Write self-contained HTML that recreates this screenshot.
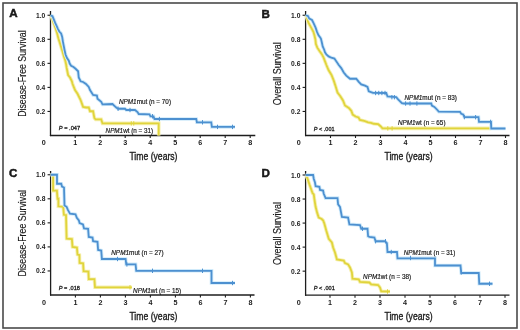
<!DOCTYPE html>
<html><head><meta charset="utf-8"><title>KM curves</title>
<style>
html,body{margin:0;padding:0;background:#fff;width:520px;height:330px;overflow:hidden;}
svg{display:block;will-change:transform;}
text{font-family:"Liberation Sans",sans-serif;fill:#1a1a1a;}
</style></head><body>
<svg width="520" height="330" viewBox="0 0 520 330">
<rect width="520" height="330" fill="#fff"/>
<rect x="3" y="3" width="514" height="325" fill="none" stroke="#4a4a4a" stroke-width="1.6"/>
<text x="9.2" y="17.0" font-size="11.6" text-anchor="start" font-weight="bold" font-style="normal" stroke="#111" stroke-width="0.45">A</text>
<text x="261.6" y="17.5" font-size="11.6" text-anchor="start" font-weight="bold" font-style="normal" stroke="#111" stroke-width="0.45">B</text>
<text x="9.0" y="177.0" font-size="11.6" text-anchor="start" font-weight="bold" font-style="normal" stroke="#111" stroke-width="0.45">C</text>
<text x="261.6" y="177.4" font-size="11.6" text-anchor="start" font-weight="bold" font-style="normal" stroke="#111" stroke-width="0.45">D</text>
<line x1="50.5" y1="11" x2="50.5" y2="136.1" stroke="#1e1e1e" stroke-width="1.3"/><line x1="49.9" y1="135.5" x2="255.3" y2="135.5" stroke="#1e1e1e" stroke-width="1.3"/><line x1="47.5" y1="111.45" x2="50.5" y2="111.45" stroke="#1e1e1e" stroke-width="1.1"/><text x="36.00" y="113.95" font-size="7.2" text-anchor="start" font-weight="bold" font-style="normal" textLength="9.3" lengthAdjust="spacingAndGlyphs">0.2</text><line x1="47.5" y1="87.40" x2="50.5" y2="87.40" stroke="#1e1e1e" stroke-width="1.1"/><text x="36.00" y="89.90" font-size="7.2" text-anchor="start" font-weight="bold" font-style="normal" textLength="9.3" lengthAdjust="spacingAndGlyphs">0.4</text><line x1="47.5" y1="63.35" x2="50.5" y2="63.35" stroke="#1e1e1e" stroke-width="1.1"/><text x="36.00" y="65.85" font-size="7.2" text-anchor="start" font-weight="bold" font-style="normal" textLength="9.3" lengthAdjust="spacingAndGlyphs">0.6</text><line x1="47.5" y1="39.30" x2="50.5" y2="39.30" stroke="#1e1e1e" stroke-width="1.1"/><text x="36.00" y="41.80" font-size="7.2" text-anchor="start" font-weight="bold" font-style="normal" textLength="9.3" lengthAdjust="spacingAndGlyphs">0.8</text><line x1="47.5" y1="15.25" x2="50.5" y2="15.25" stroke="#1e1e1e" stroke-width="1.1"/><text x="36.00" y="17.75" font-size="7.2" text-anchor="start" font-weight="bold" font-style="normal" textLength="9.3" lengthAdjust="spacingAndGlyphs">1.0</text><text x="43.75" y="145.10" font-size="7.2" text-anchor="middle" font-weight="bold" font-style="normal">0</text><line x1="75.20" y1="135.5" x2="75.20" y2="138.0" stroke="#1e1e1e" stroke-width="1.1"/><text x="75.20" y="145.10" font-size="7.2" text-anchor="middle" font-weight="bold" font-style="normal">1</text><line x1="100.20" y1="135.5" x2="100.20" y2="138.0" stroke="#1e1e1e" stroke-width="1.1"/><text x="100.20" y="145.10" font-size="7.2" text-anchor="middle" font-weight="bold" font-style="normal">2</text><line x1="125.20" y1="135.5" x2="125.20" y2="138.0" stroke="#1e1e1e" stroke-width="1.1"/><text x="125.20" y="145.10" font-size="7.2" text-anchor="middle" font-weight="bold" font-style="normal">3</text><line x1="150.20" y1="135.5" x2="150.20" y2="138.0" stroke="#1e1e1e" stroke-width="1.1"/><text x="150.20" y="145.10" font-size="7.2" text-anchor="middle" font-weight="bold" font-style="normal">4</text><line x1="175.20" y1="135.5" x2="175.20" y2="138.0" stroke="#1e1e1e" stroke-width="1.1"/><text x="175.20" y="145.10" font-size="7.2" text-anchor="middle" font-weight="bold" font-style="normal">5</text><line x1="200.20" y1="135.5" x2="200.20" y2="138.0" stroke="#1e1e1e" stroke-width="1.1"/><text x="200.20" y="145.10" font-size="7.2" text-anchor="middle" font-weight="bold" font-style="normal">6</text><line x1="225.20" y1="135.5" x2="225.20" y2="138.0" stroke="#1e1e1e" stroke-width="1.1"/><text x="225.20" y="145.10" font-size="7.2" text-anchor="middle" font-weight="bold" font-style="normal">7</text><line x1="250.20" y1="135.5" x2="250.20" y2="138.0" stroke="#1e1e1e" stroke-width="1.1"/><text x="250.20" y="145.10" font-size="7.2" text-anchor="middle" font-weight="bold" font-style="normal">8</text>
<line x1="305.6" y1="11" x2="305.6" y2="136.1" stroke="#1e1e1e" stroke-width="1.3"/><line x1="305.0" y1="135.5" x2="509.5" y2="135.5" stroke="#1e1e1e" stroke-width="1.3"/><line x1="302.6" y1="111.45" x2="305.6" y2="111.45" stroke="#1e1e1e" stroke-width="1.1"/><text x="291.10" y="113.95" font-size="7.2" text-anchor="start" font-weight="bold" font-style="normal" textLength="9.3" lengthAdjust="spacingAndGlyphs">0.2</text><line x1="302.6" y1="87.40" x2="305.6" y2="87.40" stroke="#1e1e1e" stroke-width="1.1"/><text x="291.10" y="89.90" font-size="7.2" text-anchor="start" font-weight="bold" font-style="normal" textLength="9.3" lengthAdjust="spacingAndGlyphs">0.4</text><line x1="302.6" y1="63.35" x2="305.6" y2="63.35" stroke="#1e1e1e" stroke-width="1.1"/><text x="291.10" y="65.85" font-size="7.2" text-anchor="start" font-weight="bold" font-style="normal" textLength="9.3" lengthAdjust="spacingAndGlyphs">0.6</text><line x1="302.6" y1="39.30" x2="305.6" y2="39.30" stroke="#1e1e1e" stroke-width="1.1"/><text x="291.10" y="41.80" font-size="7.2" text-anchor="start" font-weight="bold" font-style="normal" textLength="9.3" lengthAdjust="spacingAndGlyphs">0.8</text><line x1="302.6" y1="15.25" x2="305.6" y2="15.25" stroke="#1e1e1e" stroke-width="1.1"/><text x="291.10" y="17.75" font-size="7.2" text-anchor="start" font-weight="bold" font-style="normal" textLength="9.3" lengthAdjust="spacingAndGlyphs">1.0</text><text x="298.75" y="145.10" font-size="7.2" text-anchor="middle" font-weight="bold" font-style="normal">0</text><line x1="330.50" y1="135.5" x2="330.50" y2="138.0" stroke="#1e1e1e" stroke-width="1.1"/><text x="330.50" y="145.10" font-size="7.2" text-anchor="middle" font-weight="bold" font-style="normal">1</text><line x1="355.50" y1="135.5" x2="355.50" y2="138.0" stroke="#1e1e1e" stroke-width="1.1"/><text x="355.50" y="145.10" font-size="7.2" text-anchor="middle" font-weight="bold" font-style="normal">2</text><line x1="380.50" y1="135.5" x2="380.50" y2="138.0" stroke="#1e1e1e" stroke-width="1.1"/><text x="380.50" y="145.10" font-size="7.2" text-anchor="middle" font-weight="bold" font-style="normal">3</text><line x1="405.50" y1="135.5" x2="405.50" y2="138.0" stroke="#1e1e1e" stroke-width="1.1"/><text x="405.50" y="145.10" font-size="7.2" text-anchor="middle" font-weight="bold" font-style="normal">4</text><line x1="430.50" y1="135.5" x2="430.50" y2="138.0" stroke="#1e1e1e" stroke-width="1.1"/><text x="430.50" y="145.10" font-size="7.2" text-anchor="middle" font-weight="bold" font-style="normal">5</text><line x1="455.50" y1="135.5" x2="455.50" y2="138.0" stroke="#1e1e1e" stroke-width="1.1"/><text x="455.50" y="145.10" font-size="7.2" text-anchor="middle" font-weight="bold" font-style="normal">6</text><line x1="480.50" y1="135.5" x2="480.50" y2="138.0" stroke="#1e1e1e" stroke-width="1.1"/><text x="480.50" y="145.10" font-size="7.2" text-anchor="middle" font-weight="bold" font-style="normal">7</text><line x1="505.50" y1="135.5" x2="505.50" y2="138.0" stroke="#1e1e1e" stroke-width="1.1"/><text x="505.50" y="145.10" font-size="7.2" text-anchor="middle" font-weight="bold" font-style="normal">8</text>
<line x1="50.6" y1="171" x2="50.6" y2="295.6" stroke="#1e1e1e" stroke-width="1.3"/><line x1="50.0" y1="295.0" x2="254.5" y2="295.0" stroke="#1e1e1e" stroke-width="1.3"/><line x1="47.6" y1="270.95" x2="50.6" y2="270.95" stroke="#1e1e1e" stroke-width="1.1"/><text x="36.10" y="273.45" font-size="7.2" text-anchor="start" font-weight="bold" font-style="normal" textLength="9.3" lengthAdjust="spacingAndGlyphs">0.2</text><line x1="47.6" y1="246.90" x2="50.6" y2="246.90" stroke="#1e1e1e" stroke-width="1.1"/><text x="36.10" y="249.40" font-size="7.2" text-anchor="start" font-weight="bold" font-style="normal" textLength="9.3" lengthAdjust="spacingAndGlyphs">0.4</text><line x1="47.6" y1="222.85" x2="50.6" y2="222.85" stroke="#1e1e1e" stroke-width="1.1"/><text x="36.10" y="225.35" font-size="7.2" text-anchor="start" font-weight="bold" font-style="normal" textLength="9.3" lengthAdjust="spacingAndGlyphs">0.6</text><line x1="47.6" y1="198.80" x2="50.6" y2="198.80" stroke="#1e1e1e" stroke-width="1.1"/><text x="36.10" y="201.30" font-size="7.2" text-anchor="start" font-weight="bold" font-style="normal" textLength="9.3" lengthAdjust="spacingAndGlyphs">0.8</text><line x1="47.6" y1="174.75" x2="50.6" y2="174.75" stroke="#1e1e1e" stroke-width="1.1"/><text x="36.10" y="177.25" font-size="7.2" text-anchor="start" font-weight="bold" font-style="normal" textLength="9.3" lengthAdjust="spacingAndGlyphs">1.0</text><text x="43.90" y="304.60" font-size="7.2" text-anchor="middle" font-weight="bold" font-style="normal">0</text><line x1="75.40" y1="295.0" x2="75.40" y2="297.5" stroke="#1e1e1e" stroke-width="1.1"/><text x="75.40" y="304.60" font-size="7.2" text-anchor="middle" font-weight="bold" font-style="normal">1</text><line x1="100.40" y1="295.0" x2="100.40" y2="297.5" stroke="#1e1e1e" stroke-width="1.1"/><text x="100.40" y="304.60" font-size="7.2" text-anchor="middle" font-weight="bold" font-style="normal">2</text><line x1="125.40" y1="295.0" x2="125.40" y2="297.5" stroke="#1e1e1e" stroke-width="1.1"/><text x="125.40" y="304.60" font-size="7.2" text-anchor="middle" font-weight="bold" font-style="normal">3</text><line x1="150.40" y1="295.0" x2="150.40" y2="297.5" stroke="#1e1e1e" stroke-width="1.1"/><text x="150.40" y="304.60" font-size="7.2" text-anchor="middle" font-weight="bold" font-style="normal">4</text><line x1="175.40" y1="295.0" x2="175.40" y2="297.5" stroke="#1e1e1e" stroke-width="1.1"/><text x="175.40" y="304.60" font-size="7.2" text-anchor="middle" font-weight="bold" font-style="normal">5</text><line x1="200.40" y1="295.0" x2="200.40" y2="297.5" stroke="#1e1e1e" stroke-width="1.1"/><text x="200.40" y="304.60" font-size="7.2" text-anchor="middle" font-weight="bold" font-style="normal">6</text><line x1="225.40" y1="295.0" x2="225.40" y2="297.5" stroke="#1e1e1e" stroke-width="1.1"/><text x="225.40" y="304.60" font-size="7.2" text-anchor="middle" font-weight="bold" font-style="normal">7</text><line x1="250.40" y1="295.0" x2="250.40" y2="297.5" stroke="#1e1e1e" stroke-width="1.1"/><text x="250.40" y="304.60" font-size="7.2" text-anchor="middle" font-weight="bold" font-style="normal">8</text>
<line x1="305.6" y1="171" x2="305.6" y2="295.8" stroke="#1e1e1e" stroke-width="1.3"/><line x1="305.0" y1="295.2" x2="509.5" y2="295.2" stroke="#1e1e1e" stroke-width="1.3"/><line x1="302.6" y1="271.16" x2="305.6" y2="271.16" stroke="#1e1e1e" stroke-width="1.1"/><text x="291.10" y="273.66" font-size="7.2" text-anchor="start" font-weight="bold" font-style="normal" textLength="9.3" lengthAdjust="spacingAndGlyphs">0.2</text><line x1="302.6" y1="247.12" x2="305.6" y2="247.12" stroke="#1e1e1e" stroke-width="1.1"/><text x="291.10" y="249.62" font-size="7.2" text-anchor="start" font-weight="bold" font-style="normal" textLength="9.3" lengthAdjust="spacingAndGlyphs">0.4</text><line x1="302.6" y1="223.08" x2="305.6" y2="223.08" stroke="#1e1e1e" stroke-width="1.1"/><text x="291.10" y="225.58" font-size="7.2" text-anchor="start" font-weight="bold" font-style="normal" textLength="9.3" lengthAdjust="spacingAndGlyphs">0.6</text><line x1="302.6" y1="199.04" x2="305.6" y2="199.04" stroke="#1e1e1e" stroke-width="1.1"/><text x="291.10" y="201.54" font-size="7.2" text-anchor="start" font-weight="bold" font-style="normal" textLength="9.3" lengthAdjust="spacingAndGlyphs">0.8</text><line x1="302.6" y1="175.00" x2="305.6" y2="175.00" stroke="#1e1e1e" stroke-width="1.1"/><text x="291.10" y="177.50" font-size="7.2" text-anchor="start" font-weight="bold" font-style="normal" textLength="9.3" lengthAdjust="spacingAndGlyphs">1.0</text><text x="298.75" y="304.80" font-size="7.2" text-anchor="middle" font-weight="bold" font-style="normal">0</text><line x1="330.00" y1="295.2" x2="330.00" y2="297.7" stroke="#1e1e1e" stroke-width="1.1"/><text x="330.00" y="304.80" font-size="7.2" text-anchor="middle" font-weight="bold" font-style="normal">1</text><line x1="355.00" y1="295.2" x2="355.00" y2="297.7" stroke="#1e1e1e" stroke-width="1.1"/><text x="355.00" y="304.80" font-size="7.2" text-anchor="middle" font-weight="bold" font-style="normal">2</text><line x1="380.00" y1="295.2" x2="380.00" y2="297.7" stroke="#1e1e1e" stroke-width="1.1"/><text x="380.00" y="304.80" font-size="7.2" text-anchor="middle" font-weight="bold" font-style="normal">3</text><line x1="405.00" y1="295.2" x2="405.00" y2="297.7" stroke="#1e1e1e" stroke-width="1.1"/><text x="405.00" y="304.80" font-size="7.2" text-anchor="middle" font-weight="bold" font-style="normal">4</text><line x1="430.00" y1="295.2" x2="430.00" y2="297.7" stroke="#1e1e1e" stroke-width="1.1"/><text x="430.00" y="304.80" font-size="7.2" text-anchor="middle" font-weight="bold" font-style="normal">5</text><line x1="455.00" y1="295.2" x2="455.00" y2="297.7" stroke="#1e1e1e" stroke-width="1.1"/><text x="455.00" y="304.80" font-size="7.2" text-anchor="middle" font-weight="bold" font-style="normal">6</text><line x1="480.00" y1="295.2" x2="480.00" y2="297.7" stroke="#1e1e1e" stroke-width="1.1"/><text x="480.00" y="304.80" font-size="7.2" text-anchor="middle" font-weight="bold" font-style="normal">7</text><line x1="505.00" y1="295.2" x2="505.00" y2="297.7" stroke="#1e1e1e" stroke-width="1.1"/><text x="505.00" y="304.80" font-size="7.2" text-anchor="middle" font-weight="bold" font-style="normal">8</text>
<text x="0" y="0" font-size="10" text-anchor="middle" stroke="#1a1a1a" stroke-width="0.15" textLength="86.5" lengthAdjust="spacingAndGlyphs" transform="translate(25.6,73.6) rotate(-90)">Disease-Free Survival</text>
<text x="0" y="0" font-size="10" text-anchor="middle" stroke="#1a1a1a" stroke-width="0.15" textLength="63" lengthAdjust="spacingAndGlyphs" transform="translate(281.0,73.85) rotate(-90)">Overall Survival</text>
<text x="0" y="0" font-size="10" text-anchor="middle" stroke="#1a1a1a" stroke-width="0.15" textLength="86.5" lengthAdjust="spacingAndGlyphs" transform="translate(25.6,233.2) rotate(-90)">Disease-Free Survival</text>
<text x="0" y="0" font-size="10" text-anchor="middle" stroke="#1a1a1a" stroke-width="0.15" textLength="63" lengthAdjust="spacingAndGlyphs" transform="translate(281.0,233.4) rotate(-90)">Overall Survival</text>
<text x="129.4" y="160.3" font-size="10.2" text-anchor="start" font-weight="normal" font-style="normal" textLength="48.1" lengthAdjust="spacingAndGlyphs" stroke="#1a1a1a" stroke-width="0.35">Time (years)</text>
<text x="384.5" y="160.3" font-size="10.2" text-anchor="start" font-weight="normal" font-style="normal" textLength="48.1" lengthAdjust="spacingAndGlyphs" stroke="#1a1a1a" stroke-width="0.35">Time (years)</text>
<text x="129.4" y="320.0" font-size="10.2" text-anchor="start" font-weight="normal" font-style="normal" textLength="48.1" lengthAdjust="spacingAndGlyphs" stroke="#1a1a1a" stroke-width="0.35">Time (years)</text>
<text x="384.5" y="320.0" font-size="10.2" text-anchor="start" font-weight="normal" font-style="normal" textLength="48.1" lengthAdjust="spacingAndGlyphs" stroke="#1a1a1a" stroke-width="0.35">Time (years)</text>
<text x="119.0" y="104.2" font-size="6.6" textLength="52" lengthAdjust="spacingAndGlyphs" stroke="#1a1a1a" stroke-width="0.18"><tspan font-style="italic">NPM1</tspan>mut (n = 70)</text>
<text x="105.6" y="132.5" font-size="6.6" textLength="47.5" lengthAdjust="spacingAndGlyphs" stroke="#1a1a1a" stroke-width="0.18"><tspan font-style="italic">NPM1</tspan>wt (n = 31)</text>
<text x="58.8" y="130.4" font-size="6.1" textLength="21.4" lengthAdjust="spacingAndGlyphs" stroke="#1a1a1a" stroke-width="0.3"><tspan font-style="italic">P</tspan> = .047</text>
<text x="404.5" y="100.0" font-size="6.6" textLength="52.5" lengthAdjust="spacingAndGlyphs" stroke="#1a1a1a" stroke-width="0.18"><tspan font-style="italic">NPM1</tspan>mut (n = 83)</text>
<text x="398.0" y="124.8" font-size="6.6" textLength="47.5" lengthAdjust="spacingAndGlyphs" stroke="#1a1a1a" stroke-width="0.18"><tspan font-style="italic">NPM1</tspan>wt (n = 65)</text>
<text x="313.75" y="130.5" font-size="6.1" textLength="20.8" lengthAdjust="spacingAndGlyphs" stroke="#1a1a1a" stroke-width="0.3"><tspan font-style="italic">P</tspan> &lt; .001</text>
<text x="111.25" y="255.0" font-size="6.6" textLength="52.5" lengthAdjust="spacingAndGlyphs" stroke="#1a1a1a" stroke-width="0.18"><tspan font-style="italic">NPM1</tspan>mut (n = 27)</text>
<text x="133.1" y="292.6" font-size="6.6" textLength="48.1" lengthAdjust="spacingAndGlyphs" stroke="#1a1a1a" stroke-width="0.18"><tspan font-style="italic">NPM1</tspan>wt (n = 15)</text>
<text x="58.75" y="290.3" font-size="6.1" textLength="21.2" lengthAdjust="spacingAndGlyphs" stroke="#1a1a1a" stroke-width="0.3"><tspan font-style="italic">P</tspan> = .018</text>
<text x="403.75" y="254.8" font-size="6.6" textLength="51.7" lengthAdjust="spacingAndGlyphs" stroke="#1a1a1a" stroke-width="0.18"><tspan font-style="italic">NPM1</tspan>mut (n = 31)</text>
<text x="363.1" y="279.3" font-size="6.6" textLength="48.1" lengthAdjust="spacingAndGlyphs" stroke="#1a1a1a" stroke-width="0.18"><tspan font-style="italic">NPM1</tspan>wt (n = 38)</text>
<text x="313.75" y="290.0" font-size="6.1" textLength="21.0" lengthAdjust="spacingAndGlyphs" stroke="#1a1a1a" stroke-width="0.3"><tspan font-style="italic">P</tspan> &lt; .001</text>
<polyline points="50.50,15.30 51.50,16.50 52.90,21.10 54.30,24.70 55.60,28.40 57.00,32.90 58.40,38.40 59.70,42.50 61.10,47.10 62.50,51.60 63.80,56.20 65.20,60.30 66.10,64.40 66.70,68.00 68.10,75.00 70.00,77.50 71.90,81.25 72.50,83.75 75.00,90.00 77.50,93.75 80.60,100.00 83.10,106.90 86.25,107.50 88.75,107.50 90.00,111.25 93.10,111.25 94.40,118.10 95.60,119.40 101.25,119.40 102.50,123.40 158.70,123.40 158.70,135.50" fill="none" stroke="#f6f0b0" stroke-width="3.6" stroke-linejoin="miter" stroke-linecap="butt"/>
<polyline points="50.50,15.30 51.50,16.50 52.90,21.10 54.30,24.70 55.60,28.40 57.00,32.90 58.40,38.40 59.70,42.50 61.10,47.10 62.50,51.60 63.80,56.20 65.20,60.30 66.10,64.40 66.70,68.00 68.10,75.00 70.00,77.50 71.90,81.25 72.50,83.75 75.00,90.00 77.50,93.75 80.60,100.00 83.10,106.90 86.25,107.50 88.75,107.50 90.00,111.25 93.10,111.25 94.40,118.10 95.60,119.40 101.25,119.40 102.50,123.40 158.70,123.40 158.70,135.50" fill="none" stroke="#e0d43c" stroke-width="1.8" stroke-linejoin="miter" stroke-linecap="butt"/>
<line x1="131.25" y1="121.20" x2="131.25" y2="125.60" stroke="#e0d43c" stroke-width="1.0"/><line x1="133.75" y1="121.20" x2="133.75" y2="125.60" stroke="#e0d43c" stroke-width="1.0"/>
<polyline points="50.50,15.30 52.50,16.10 53.80,19.30 55.20,22.90 56.50,25.60 57.90,28.80 59.30,31.50 61.10,33.40 62.20,37.00 62.90,41.60 63.80,46.20 64.70,50.70 65.60,54.80 67.00,58.00 68.80,60.70 69.70,63.50 71.10,65.70 73.50,67.00 75.60,68.75 78.10,71.25 78.75,77.50 80.60,81.25 83.10,82.00 86.00,84.00 88.75,86.90 90.00,90.00 93.10,95.00 96.90,95.60 97.50,98.75 101.25,101.90 102.50,104.40 112.50,104.00 114.40,105.80 116.25,107.50 118.00,108.75 125.00,108.75 126.25,110.00 135.00,110.00 137.50,112.00 138.75,114.00 149.50,114.40 150.50,116.40 153.50,116.40 154.50,119.00 196.25,119.00 196.90,122.30 211.25,122.30 211.90,126.90 235.00,126.90" fill="none" stroke="#cfeafa" stroke-width="3.6" stroke-linejoin="miter" stroke-linecap="butt"/>
<polyline points="50.50,15.30 52.50,16.10 53.80,19.30 55.20,22.90 56.50,25.60 57.90,28.80 59.30,31.50 61.10,33.40 62.20,37.00 62.90,41.60 63.80,46.20 64.70,50.70 65.60,54.80 67.00,58.00 68.80,60.70 69.70,63.50 71.10,65.70 73.50,67.00 75.60,68.75 78.10,71.25 78.75,77.50 80.60,81.25 83.10,82.00 86.00,84.00 88.75,86.90 90.00,90.00 93.10,95.00 96.90,95.60 97.50,98.75 101.25,101.90 102.50,104.40 112.50,104.00 114.40,105.80 116.25,107.50 118.00,108.75 125.00,108.75 126.25,110.00 135.00,110.00 137.50,112.00 138.75,114.00 149.50,114.40 150.50,116.40 153.50,116.40 154.50,119.00 196.25,119.00 196.90,122.30 211.25,122.30 211.90,126.90 235.00,126.90" fill="none" stroke="#4d90d0" stroke-width="1.8" stroke-linejoin="miter" stroke-linecap="butt"/>
<line x1="118.10" y1="106.55" x2="118.10" y2="110.95" stroke="#4d90d0" stroke-width="1.0"/><line x1="130.00" y1="107.80" x2="130.00" y2="112.20" stroke="#4d90d0" stroke-width="1.0"/><line x1="152.50" y1="114.05" x2="152.50" y2="118.45" stroke="#4d90d0" stroke-width="1.0"/><line x1="159.40" y1="116.80" x2="159.40" y2="121.20" stroke="#4d90d0" stroke-width="1.0"/><line x1="202.50" y1="120.10" x2="202.50" y2="124.50" stroke="#4d90d0" stroke-width="1.0"/><line x1="217.50" y1="124.70" x2="217.50" y2="129.10" stroke="#4d90d0" stroke-width="1.0"/><line x1="232.50" y1="124.70" x2="232.50" y2="129.10" stroke="#4d90d0" stroke-width="1.0"/>
<polyline points="305.60,15.25 306.50,16.40 307.50,20.00 308.40,22.70 310.20,25.90 312.00,29.10 313.40,31.80 314.40,35.30 315.40,39.50 315.90,44.10 317.30,47.70 319.50,50.90 321.80,54.10 323.60,57.70 325.00,61.40 326.40,65.00 328.50,70.00 331.50,75.00 333.75,80.60 335.60,86.25 337.50,92.50 340.50,96.50 343.00,100.50 345.00,105.50 348.80,107.90 351.30,110.80 352.70,114.60 355.60,116.50 358.50,117.50 359.90,119.90 364.20,120.90 368.10,122.30 371.00,122.80 373.80,123.75 378.20,124.20 380.60,126.20 382.50,128.40 491.25,128.40" fill="none" stroke="#f6f0b0" stroke-width="3.6" stroke-linejoin="miter" stroke-linecap="butt"/>
<polyline points="305.60,15.25 306.50,16.40 307.50,20.00 308.40,22.70 310.20,25.90 312.00,29.10 313.40,31.80 314.40,35.30 315.40,39.50 315.90,44.10 317.30,47.70 319.50,50.90 321.80,54.10 323.60,57.70 325.00,61.40 326.40,65.00 328.50,70.00 331.50,75.00 333.75,80.60 335.60,86.25 337.50,92.50 340.50,96.50 343.00,100.50 345.00,105.50 348.80,107.90 351.30,110.80 352.70,114.60 355.60,116.50 358.50,117.50 359.90,119.90 364.20,120.90 368.10,122.30 371.00,122.80 373.80,123.75 378.20,124.20 380.60,126.20 382.50,128.40 491.25,128.40" fill="none" stroke="#e0d43c" stroke-width="1.8" stroke-linejoin="miter" stroke-linecap="butt"/>
<line x1="387.80" y1="126.20" x2="387.80" y2="130.60" stroke="#e0d43c" stroke-width="1.0"/><line x1="392.10" y1="126.20" x2="392.10" y2="130.60" stroke="#e0d43c" stroke-width="1.0"/>
<polyline points="305.60,15.25 307.90,15.90 309.30,18.60 312.00,20.00 313.80,23.60 315.60,27.70 317.00,31.80 318.40,35.00 320.20,37.50 320.90,38.60 321.80,42.30 322.70,46.40 324.10,49.50 325.00,52.30 326.40,54.50 328.60,56.40 331.40,57.70 334.40,58.60 336.25,61.25 338.75,65.00 341.25,68.10 343.75,72.50 346.25,75.60 350.00,78.75 356.25,78.75 358.75,81.90 361.25,84.40 365.00,85.60 367.50,86.90 368.75,91.25 373.00,92.90 386.25,93.00 387.50,96.50 396.25,97.20 398.10,99.40 401.90,103.20 403.75,103.50 431.25,103.50 431.90,105.60 434.40,106.90 436.25,108.75 438.75,111.60 460.00,111.80 461.25,113.75 463.10,114.40 464.40,117.10 478.50,117.10 479.00,121.90 491.00,121.90 491.25,128.50 505.50,128.50" fill="none" stroke="#cfeafa" stroke-width="3.6" stroke-linejoin="miter" stroke-linecap="butt"/>
<polyline points="305.60,15.25 307.90,15.90 309.30,18.60 312.00,20.00 313.80,23.60 315.60,27.70 317.00,31.80 318.40,35.00 320.20,37.50 320.90,38.60 321.80,42.30 322.70,46.40 324.10,49.50 325.00,52.30 326.40,54.50 328.60,56.40 331.40,57.70 334.40,58.60 336.25,61.25 338.75,65.00 341.25,68.10 343.75,72.50 346.25,75.60 350.00,78.75 356.25,78.75 358.75,81.90 361.25,84.40 365.00,85.60 367.50,86.90 368.75,91.25 373.00,92.90 386.25,93.00 387.50,96.50 396.25,97.20 398.10,99.40 401.90,103.20 403.75,103.50 431.25,103.50 431.90,105.60 434.40,106.90 436.25,108.75 438.75,111.60 460.00,111.80 461.25,113.75 463.10,114.40 464.40,117.10 478.50,117.10 479.00,121.90 491.00,121.90 491.25,128.50 505.50,128.50" fill="none" stroke="#4d90d0" stroke-width="1.8" stroke-linejoin="miter" stroke-linecap="butt"/>
<line x1="375.60" y1="90.80" x2="375.60" y2="95.20" stroke="#4d90d0" stroke-width="1.0"/><line x1="378.75" y1="90.80" x2="378.75" y2="95.20" stroke="#4d90d0" stroke-width="1.0"/><line x1="381.90" y1="90.80" x2="381.90" y2="95.20" stroke="#4d90d0" stroke-width="1.0"/><line x1="385.00" y1="90.80" x2="385.00" y2="95.20" stroke="#4d90d0" stroke-width="1.0"/><line x1="391.90" y1="95.00" x2="391.90" y2="99.40" stroke="#4d90d0" stroke-width="1.0"/><line x1="394.40" y1="95.00" x2="394.40" y2="99.40" stroke="#4d90d0" stroke-width="1.0"/><line x1="405.60" y1="101.30" x2="405.60" y2="105.70" stroke="#4d90d0" stroke-width="1.0"/><line x1="410.00" y1="101.30" x2="410.00" y2="105.70" stroke="#4d90d0" stroke-width="1.0"/><line x1="416.90" y1="101.30" x2="416.90" y2="105.70" stroke="#4d90d0" stroke-width="1.0"/><line x1="464.40" y1="114.90" x2="464.40" y2="119.30" stroke="#4d90d0" stroke-width="1.0"/><line x1="475.60" y1="115.00" x2="475.60" y2="119.40" stroke="#4d90d0" stroke-width="1.0"/><line x1="490.60" y1="119.70" x2="490.60" y2="124.10" stroke="#4d90d0" stroke-width="1.0"/>
<polyline points="50.60,174.75 53.10,174.75 53.10,190.60 56.90,190.60 57.50,198.75 58.40,198.75 58.40,206.30 63.20,206.80 63.90,214.80 66.00,215.00 66.60,238.60 71.90,239.00 72.50,246.90 76.90,247.50 77.50,254.60 79.40,255.00 79.60,263.00 83.10,263.40 83.60,271.25 88.40,271.50 88.75,279.20 94.40,279.20 95.00,287.30 131.90,287.30" fill="none" stroke="#f6f0b0" stroke-width="3.6" stroke-linejoin="miter" stroke-linecap="butt"/>
<polyline points="50.60,174.75 53.10,174.75 53.10,190.60 56.90,190.60 57.50,198.75 58.40,198.75 58.40,206.30 63.20,206.80 63.90,214.80 66.00,215.00 66.60,238.60 71.90,239.00 72.50,246.90 76.90,247.50 77.50,254.60 79.40,255.00 79.60,263.00 83.10,263.40 83.60,271.25 88.40,271.50 88.75,279.20 94.40,279.20 95.00,287.30 131.90,287.30" fill="none" stroke="#e0d43c" stroke-width="1.8" stroke-linejoin="miter" stroke-linecap="butt"/>
<line x1="130.00" y1="285.10" x2="130.00" y2="289.50" stroke="#e0d43c" stroke-width="1.0"/>
<polyline points="50.60,174.75 57.00,174.75 57.00,183.75 61.25,183.75 62.00,186.50 64.00,187.50 64.50,205.50 66.60,206.80 68.00,210.20 70.00,213.60 75.50,214.30 76.80,217.70 78.90,220.50 79.60,223.20 83.00,224.50 84.00,228.40 88.10,228.75 88.75,236.90 92.50,237.50 93.10,241.25 97.50,241.90 98.10,250.00 101.25,250.60 101.90,259.00 125.60,259.00 126.25,264.40 135.60,264.40 136.25,270.80 211.50,270.80 211.50,283.00 235.00,283.00" fill="none" stroke="#cfeafa" stroke-width="3.6" stroke-linejoin="miter" stroke-linecap="butt"/>
<polyline points="50.60,174.75 57.00,174.75 57.00,183.75 61.25,183.75 62.00,186.50 64.00,187.50 64.50,205.50 66.60,206.80 68.00,210.20 70.00,213.60 75.50,214.30 76.80,217.70 78.90,220.50 79.60,223.20 83.00,224.50 84.00,228.40 88.10,228.75 88.75,236.90 92.50,237.50 93.10,241.25 97.50,241.90 98.10,250.00 101.25,250.60 101.90,259.00 125.60,259.00 126.25,264.40 135.60,264.40 136.25,270.80 211.50,270.80 211.50,283.00 235.00,283.00" fill="none" stroke="#4d90d0" stroke-width="1.8" stroke-linejoin="miter" stroke-linecap="butt"/>
<line x1="117.50" y1="256.80" x2="117.50" y2="261.20" stroke="#4d90d0" stroke-width="1.0"/><line x1="126.90" y1="262.20" x2="126.90" y2="266.60" stroke="#4d90d0" stroke-width="1.0"/><line x1="152.50" y1="268.60" x2="152.50" y2="273.00" stroke="#4d90d0" stroke-width="1.0"/><line x1="202.50" y1="268.60" x2="202.50" y2="273.00" stroke="#4d90d0" stroke-width="1.0"/><line x1="232.50" y1="280.80" x2="232.50" y2="285.20" stroke="#4d90d0" stroke-width="1.0"/>
<polyline points="305.60,175.00 306.50,175.60 309.60,184.90 312.60,193.20 313.80,194.50 314.30,198.50 315.60,206.80 317.20,212.90 318.70,217.50 321.70,219.00 323.20,220.50 324.40,223.75 326.25,230.60 328.75,238.75 331.90,242.50 333.10,247.50 335.00,252.50 336.90,259.40 343.75,260.60 345.00,263.10 348.10,264.40 350.00,267.50 351.90,272.50 352.50,278.75 358.75,279.40 360.00,281.90 369.40,282.50 371.25,284.40 378.10,285.00 380.00,287.50 381.25,291.25 390.00,291.50" fill="none" stroke="#f6f0b0" stroke-width="3.6" stroke-linejoin="miter" stroke-linecap="butt"/>
<polyline points="305.60,175.00 306.50,175.60 309.60,184.90 312.60,193.20 313.80,194.50 314.30,198.50 315.60,206.80 317.20,212.90 318.70,217.50 321.70,219.00 323.20,220.50 324.40,223.75 326.25,230.60 328.75,238.75 331.90,242.50 333.10,247.50 335.00,252.50 336.90,259.40 343.75,260.60 345.00,263.10 348.10,264.40 350.00,267.50 351.90,272.50 352.50,278.75 358.75,279.40 360.00,281.90 369.40,282.50 371.25,284.40 378.10,285.00 380.00,287.50 381.25,291.25 390.00,291.50" fill="none" stroke="#e0d43c" stroke-width="1.8" stroke-linejoin="miter" stroke-linecap="butt"/>
<line x1="387.50" y1="289.30" x2="387.50" y2="293.70" stroke="#e0d43c" stroke-width="1.0"/>
<polyline points="305.60,175.00 313.10,175.00 313.75,178.75 315.00,182.50 315.60,186.25 319.40,186.90 320.00,190.00 323.10,190.60 323.75,193.75 325.60,198.10 337.50,198.10 338.10,204.40 340.00,206.90 340.60,210.00 341.90,216.90 348.10,217.50 349.40,224.40 360.00,225.00 361.25,228.75 367.50,228.75 368.10,236.25 369.40,236.90 374.40,237.50 375.60,241.25 385.00,241.25 386.90,243.10 387.50,252.00 397.00,252.00 397.50,258.40 435.00,258.40 435.00,265.50 460.50,265.50 461.25,273.00 478.75,273.00 479.25,283.75 492.50,283.75" fill="none" stroke="#cfeafa" stroke-width="3.6" stroke-linejoin="miter" stroke-linecap="butt"/>
<polyline points="305.60,175.00 313.10,175.00 313.75,178.75 315.00,182.50 315.60,186.25 319.40,186.90 320.00,190.00 323.10,190.60 323.75,193.75 325.60,198.10 337.50,198.10 338.10,204.40 340.00,206.90 340.60,210.00 341.90,216.90 348.10,217.50 349.40,224.40 360.00,225.00 361.25,228.75 367.50,228.75 368.10,236.25 369.40,236.90 374.40,237.50 375.60,241.25 385.00,241.25 386.90,243.10 387.50,252.00 397.00,252.00 397.50,258.40 435.00,258.40 435.00,265.50 460.50,265.50 461.25,273.00 478.75,273.00 479.25,283.75 492.50,283.75" fill="none" stroke="#4d90d0" stroke-width="1.8" stroke-linejoin="miter" stroke-linecap="butt"/>
<line x1="362.50" y1="226.55" x2="362.50" y2="230.95" stroke="#4d90d0" stroke-width="1.0"/><line x1="375.60" y1="239.05" x2="375.60" y2="243.45" stroke="#4d90d0" stroke-width="1.0"/><line x1="385.50" y1="239.05" x2="385.50" y2="243.45" stroke="#4d90d0" stroke-width="1.0"/><line x1="391.25" y1="249.80" x2="391.25" y2="254.20" stroke="#4d90d0" stroke-width="1.0"/><line x1="410.50" y1="255.80" x2="410.50" y2="260.20" stroke="#4d90d0" stroke-width="1.0"/><line x1="461.25" y1="270.30" x2="461.25" y2="274.70" stroke="#4d90d0" stroke-width="1.0"/><line x1="489.50" y1="281.55" x2="489.50" y2="285.95" stroke="#4d90d0" stroke-width="1.0"/>
</svg>
</body></html>
